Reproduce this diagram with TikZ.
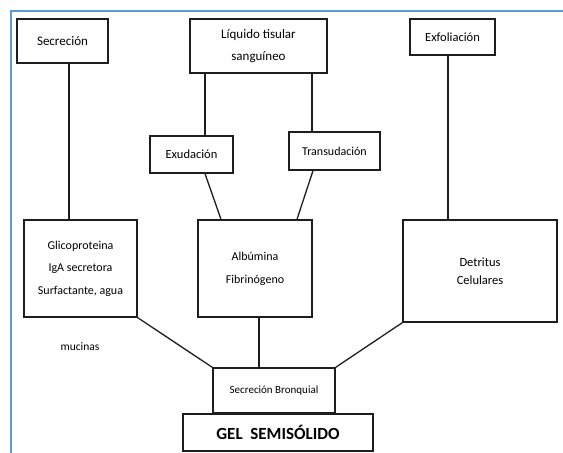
\documentclass[tikz,border=0pt]{standalone}
\usepackage{fontspec}
\setmainfont{Carlito}
\definecolor{framblue}{RGB}{91,155,213}
\definecolor{inkgray}{RGB}{30,30,30}
\begin{document}
\begin{tikzpicture}[
    x=1pt, y=-1pt,
    box/.style={draw=inkgray, line width=1.3pt, align=center, inner sep=0pt, font=\fontsize{11.5}{22}\selectfont},
    link/.style={draw=inkgray, line width=1.3pt}
]
    \useasboundingbox (0,0) rectangle (563,453);
    % frame
    \draw[framblue, line width=2pt] (11,453) -- (11,11) -- (563,11);

    % sources
    \node[box, minimum width=91pt, minimum height=44pt, font=\fontsize{13}{14}\selectfont] (sec) at (62.5,41) {Secreción};
    \node[box, minimum width=137pt, minimum height=54pt, font=\fontsize{13}{22}\selectfont] (liq) at (258.5,46) {Líquido tisular\\sanguíneo};
    \node[box, minimum width=85pt, minimum height=36pt, font=\fontsize{12.5}{14}\selectfont] (exf) at (452.5,37) {Exfoliación};

    % mechanisms
    \node[box, minimum width=83pt, minimum height=37pt, font=\fontsize{12.5}{14}\selectfont] (exu) at (191.5,154.5) {Exudación};
    \node[box, minimum width=91pt, minimum height=38pt, font=\fontsize{12}{14}\selectfont] (tra) at (334.5,151) {Transudación};

    % components
    \node[box, minimum width=113pt, minimum height=97pt, font=\fontsize{12}{22.5}\selectfont] (glico) at (80.5,268.5) {Glicoproteina\\IgA secretora\\Surfactante, agua};
    \node[box, minimum width=114pt, minimum height=97pt, font=\fontsize{12}{23}\selectfont] (alb) at (255,268.5) {Albúmina\\Fibrinógeno};
    \node[box, minimum width=154pt, minimum height=102pt, font=\fontsize{12.5}{17.5}\selectfont] (det) at (480,271) {Detritus\\Celulares};
    \node[font=\fontsize{11.5}{12}\selectfont] (muc) at (80,347) {mucinas};

    % result
    \node[box, minimum width=122pt, minimum height=45pt, font=\fontsize{11}{14}\selectfont] (sb) at (274,390.5) {Secreción Bronquial};
    \node[box, minimum width=190pt, minimum height=37pt, font=\fontsize{17}{18}\bfseries] (gel) at (278,432.5) {GEL\ \ SEMISÓLIDO};

    % links
    \draw[link] ([xshift=6.5pt]sec.south) coordinate (s1) -- (s1 |- glico.north);
    \draw[link] ([xshift=-53.5pt]liq.south) coordinate (l1) -- (l1 |- exu.north);
    \draw[link] ([xshift=53.5pt]liq.south) coordinate (l2) -- (l2 |- tra.north);
    \draw[link] ([xshift=-4.5pt]exf.south) coordinate (e1) -- (e1 |- det.north);
    \draw[link] ([xshift=13.5pt]exu.south) -- ([xshift=-34pt]alb.north);
    \draw[link] ([xshift=-21.5pt]tra.south) -- ([xshift=42pt]alb.north);
    \draw[link] (glico.south east) -- (sb.north west);
    \draw[link] ([xshift=4pt]alb.south) coordinate (a1) -- (a1 |- sb.north);
    \draw[link] (det.south west) -- (sb.north east);
\end{tikzpicture}
\end{document}
